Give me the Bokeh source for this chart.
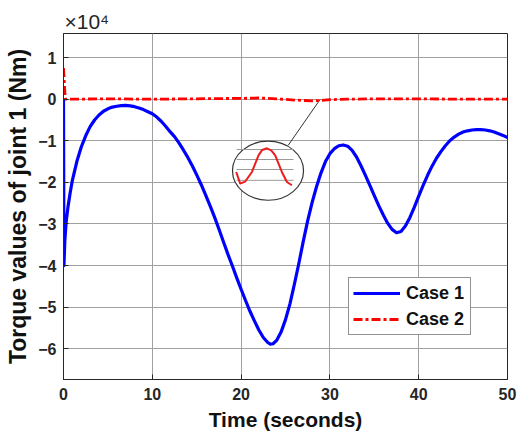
from bokeh.plotting import figure
from bokeh.models import Range1d, Legend, LegendItem, FixedTicker
from bokeh.embed import file_html
from bokeh.resources import INLINE

# ---------------- data (torque in units of 10^4 Nm) ----------------
time_case1 = [0, 0.05, 0.15, 0.3, 0.5, 0.75, 1.0, 1.5, 2.0, 2.5, 3.0, 3.5, 4.0, 4.5, 5.0, 5.5,
              6.0, 6.5, 7.0, 7.5, 8.0, 8.5, 9.0, 9.5, 10, 10.5, 11, 11.5, 12, 12.5, 13, 13.5,
              14, 14.5, 15, 15.5, 16, 16.5, 17, 17.5, 18, 18.5, 19, 19.5, 20, 20.5, 21, 21.5,
              22, 22.5, 23, 23.3, 23.6, 24, 24.5, 25, 25.5, 26, 26.5, 27, 27.5, 28, 28.5, 29,
              29.5, 30, 30.5, 31, 31.5, 32, 32.5, 33, 33.5, 34, 34.5, 35, 35.5, 36, 36.5, 37,
              37.5, 38, 38.5, 39, 39.5, 40, 40.5, 41, 41.5, 42, 42.5, 43, 43.5, 44, 44.5, 45,
              45.5, 46, 46.5, 47, 47.5, 48, 48.5, 49, 49.5, 50]
torque_case1 = [0.0, -4.0, -3.4, -2.95, -2.6, -2.25, -1.95, -1.5, -1.15, -0.88, -0.66, -0.5, -0.38, -0.29, -0.23, -0.19,
                -0.17, -0.155, -0.15, -0.16, -0.18, -0.21, -0.25, -0.3, -0.35, -0.43, -0.53, -0.65, -0.78, -0.9, -1.05, -1.22,
                -1.4, -1.6, -1.82, -2.05, -2.3, -2.56, -2.83, -3.12, -3.42, -3.72, -4.0, -4.29, -4.57, -4.84, -5.1, -5.33,
                -5.55, -5.73, -5.85, -5.89, -5.88, -5.8, -5.6, -5.3, -4.92, -4.45, -3.95, -3.42, -2.92, -2.48, -2.1, -1.77,
                -1.5, -1.31, -1.19, -1.12, -1.1, -1.13, -1.23, -1.39, -1.6, -1.83, -2.07, -2.32, -2.56, -2.78, -2.98, -3.13,
                -3.21, -3.18, -3.05, -2.85, -2.6, -2.33, -2.07, -1.83, -1.61, -1.42, -1.26, -1.12, -1.0, -0.91, -0.84, -0.79,
                -0.76, -0.74, -0.73, -0.73, -0.74, -0.76, -0.79, -0.83, -0.87, -0.92]

time_case2 = [0, 0.2, 1, 5, 10, 15, 20, 22, 24, 26, 28, 29, 30, 32, 35, 40, 45, 50]
torque_case2 = [0.75, 0.0, 0.0, 0.01, 0.0, 0.01, 0.02, 0.03, 0.01, -0.02, -0.04, -0.03, -0.01, 0.0, 0.01, 0.01, 0.0, 0.0]

# magnified inset of case 2 (drawn inside the ellipse)
inset_time = [19.45, 19.9, 20.46, 21.22, 21.96, 22.38, 22.9, 23.39, 23.84, 24.59, 25.16, 25.72]
inset_torque = [-1.75, -2.03, -1.98, -1.75, -1.35, -1.22, -1.18, -1.23, -1.35, -1.75, -1.99, -2.07]
inset_grid_levels = [-1.21, -1.45, -1.69, -1.95]
inset_grid_span = [19.5, 25.9]
ellipse_center = (23.03, -1.72)
ellipse_size = (8.0, 1.42)
connector_x = [25.3, 28.9]
connector_y = [-1.11, -0.005]

x_ticks = [0, 10, 20, 30, 40, 50]
y_ticks = [-6, -5, -4, -3, -2, -1, 0, 1]

FONT = "Liberation Sans"

p = figure(width=517, height=441, output_backend="svg", toolbar_location=None,
           x_range=Range1d(0, 50), y_range=Range1d(-6.74, 1.58),
           min_border_left=63, min_border_right=10, min_border_top=33, min_border_bottom=62,
           background_fill_color="white", border_fill_color="white",
           title="\u00d710\u2074")

p.title.text_font = FONT
p.title.text_font_size = "21px"
p.title.text_font_style = "normal"
p.title.align = "left"
p.title.offset = 1
p.title.standoff = 1
p.title.text_color = "#262626"

p.outline_line_color = "#262626"
p.outline_line_width = 1

for ax in (p.xaxis[0], p.yaxis[0]):
    ax.major_tick_in = 5
    ax.major_tick_out = 0
    ax.minor_tick_line_color = None
    ax.axis_line_color = "#262626"
    ax.major_tick_line_color = "#262626"
    ax.major_label_text_font = FONT
    ax.major_label_text_font_style = "bold"
    ax.major_label_text_font_size = "16px"
    ax.major_label_text_color = "#262626"
    ax.axis_label_text_font = FONT
    ax.axis_label_text_font_style = "bold"
    ax.axis_label_text_color = "#111111"
    ax.major_label_standoff = 8

p.yaxis.major_label_standoff = 7
p.xaxis.ticker = FixedTicker(ticks=x_ticks)
p.yaxis.ticker = FixedTicker(ticks=y_ticks)
p.xaxis.axis_label = "Time (seconds)"
p.yaxis.axis_label = "Torque values of joint 1 (Nm)"
p.xaxis.axis_label_text_font_size = "21px"
p.yaxis.axis_label_text_font_size = "23px"
p.xaxis.axis_label_standoff = 5
p.yaxis.axis_label_standoff = 4

p.grid.grid_line_color = "#a0a0a0"
p.grid.grid_line_width = 1

# inset annotation
p.line(connector_x, connector_y, line_color="#333333", line_width=1)
p.ellipse(x=[ellipse_center[0]], y=[ellipse_center[1]], width=ellipse_size[0], height=ellipse_size[1],
          fill_color="white", line_color="#333333", line_width=1.2)
for lev in inset_grid_levels:
    p.line(inset_grid_span, [lev, lev], line_color="#9a9a9a", line_width=1)
p.line(inset_time, inset_torque, line_color="#ee1c1c", line_width=2)

r1 = p.line(time_case1, torque_case1, line_color="#0000ff", line_width=3.2, line_join="round")
r2 = p.line(time_case2, torque_case2, line_color="#ff0000", line_width=2.8, line_dash="9 3 3 3")

legend = Legend(items=[LegendItem(label="Case 1", renderers=[r1]),
                       LegendItem(label="Case 2", renderers=[r2])],
                location=(285, 44))
legend.label_text_font = FONT
legend.label_text_font_style = "bold"
legend.label_text_font_size = "18px"
legend.label_text_color = "#111111"
legend.border_line_color = "#262626"
legend.border_line_width = 1
legend.background_fill_alpha = 1.0
legend.glyph_width = 47
legend.glyph_height = 22
legend.label_height = 22
legend.label_width = 60
legend.label_standoff = 6
legend.padding = 4
legend.spacing = 4
legend.margin = 0
p.add_layout(legend, "center")

open("out.html", "w").write(file_html(p, INLINE))
